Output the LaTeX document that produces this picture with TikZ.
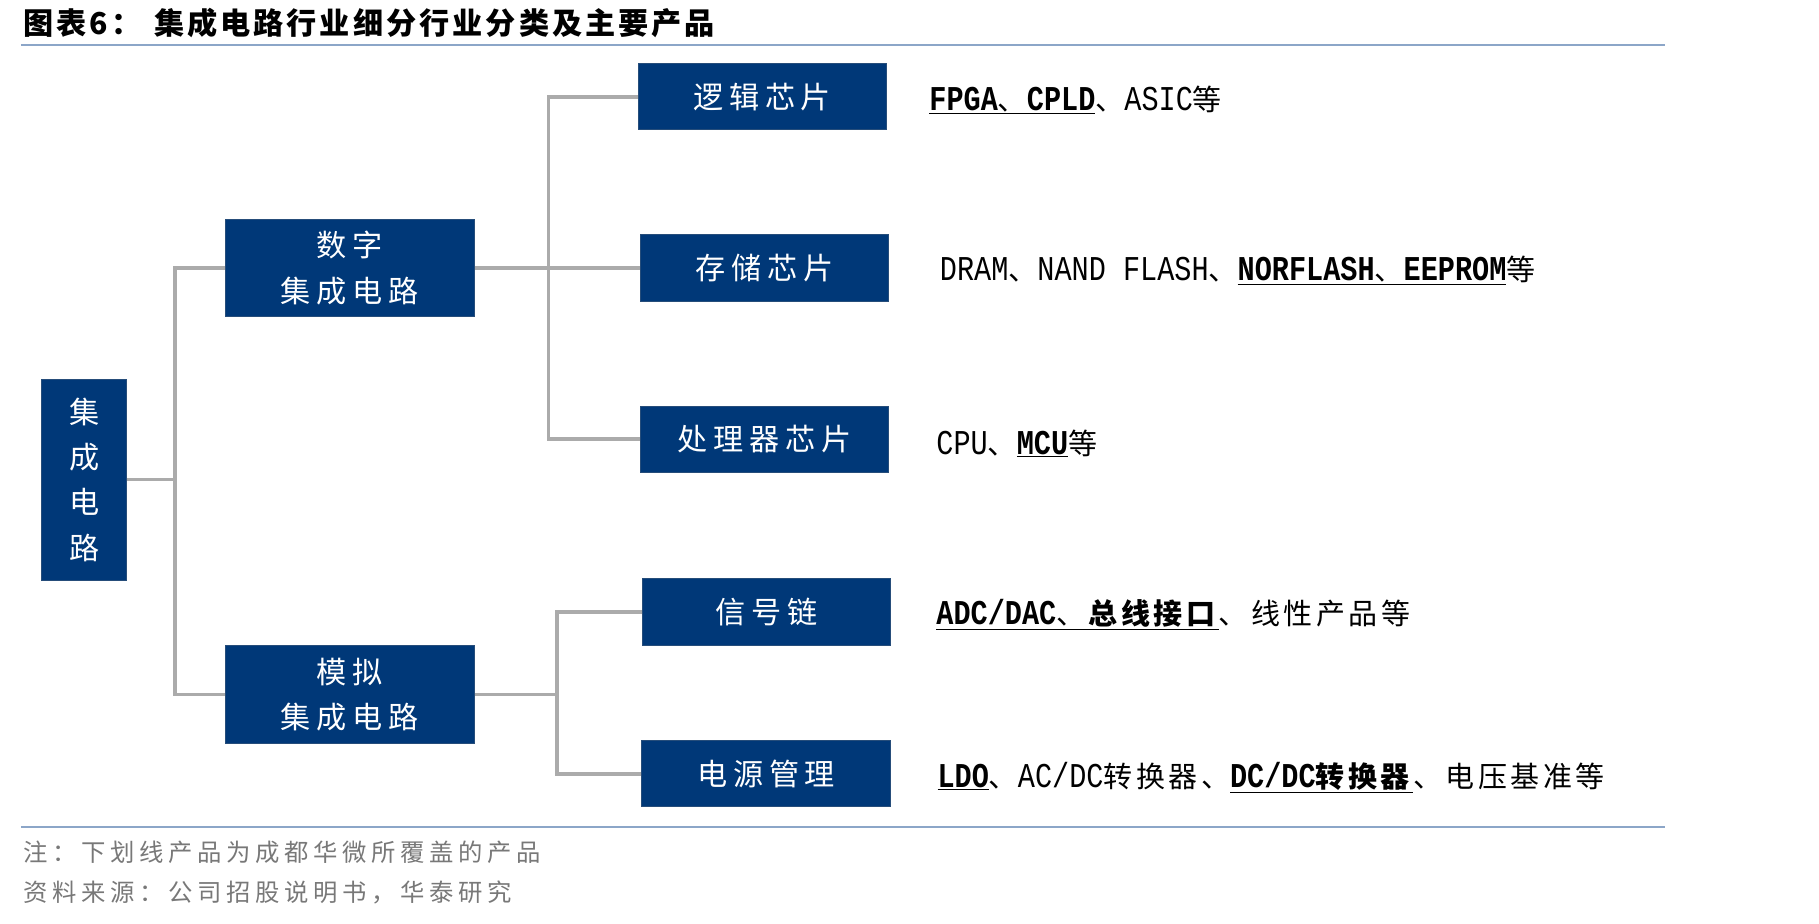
\documentclass[tikz,border=0pt]{standalone}
\usepackage{fontspec}
\setmainfont{Noto Sans CJK SC}
\newfontfamily\nar[FakeStretch=0.82]{Liberation Mono}
\newfontfamily\boxf[LetterSpace=19]{Noto Sans CJK SC}
\newfontfamily\prodf[LetterSpace=12]{Noto Sans CJK SC}
\newfontfamily\notef[LetterSpace=19]{Noto Sans CJK SC}
\newfontfamily\titlef[LetterSpace=10]{Noto Sans CJK SC}
\newcommand\La[1]{{\nar\fontsize{30}{30}\selectfont #1}}
\newcommand\Lb[1]{{\nar\bfseries\fontsize{30}{30}\selectfont #1}}
\definecolor{navy}{RGB}{0,56,120}
\definecolor{conn}{RGB}{171,171,171}
\definecolor{rulec}{RGB}{140,166,200}
\definecolor{notegray}{RGB}{120,120,120}
\tikzset{
  box/.style={fill=navy, draw=navy!70!gray, line width=0.8pt, text=white,
    font=\boxf\fontsize{26}{39}\selectfont, align=center,
    minimum width=214pt, minimum height=57pt, inner sep=0pt},
  conn/.style={draw=conn, line width=3pt},
  prod/.style={anchor=west, inner sep=0pt, font=\prodf\fontsize{25}{30}\selectfont, text=black},
  note/.style={anchor=west, inner sep=0pt, font=\notef\fontsize{21}{26}\selectfont, text=notegray},
  rulel/.style={draw=rulec, line width=2pt}
}
\begin{document}
\begin{tikzpicture}[x=1pt,y=-1pt]
\useasboundingbox (0,0) rectangle (1568,796);
% title
\node[anchor=west, inner sep=0pt, font=\titlef\bfseries\fontsize{26}{30}\selectfont] (title) at (20,20) {图表6：\hspace{11pt}集成电路行业细分行业分类及主要产品};
\coordinate (r1a) at (18,39);
\coordinate (r1b) at (1435,39);
\draw[rulel] (r1a) -- (r1b);
\coordinate (r2a) at (18,713);
\coordinate (r2b) at (1435,713);
\draw[rulel] (r2a) -- (r2b);
% boxes
\node[box, minimum width=73pt, minimum height=173pt] (root) at (72.5,413.5) {集\\成\\电\\路};
\node[box, minimum width=215pt, minimum height=84pt] (dig) at (301.5,231) {数字\\集成电路};
\node[box, minimum width=215pt, minimum height=84pt] (ana) at (301.5,598.5) {模拟\\集成电路};
\node[box] (logic) at (657,83.5) {逻辑芯片};
\node[box] (mem) at (659,231) {存储芯片};
\node[box] (proc) at (659,378.5) {处理器芯片};
\node[box] (sig) at (661,527.5) {信号链};
\node[box, minimum width=215pt] (pwr) at (660.5,667) {电源管理};
% connectors
\coordinate (j1) at (151,413.5);
\coordinate (j2) at (473,231);
\coordinate (j3) at (480,598.5);
\draw[conn] (root.east) -- (j1);
\draw[conn] (dig.west) -- (dig.west -| j1) -- (ana.west -| j1) -- (ana.west);
\draw[conn] (dig.east) -- (mem.west);
\draw[conn] (logic.west) -- (logic.west -| j2) -- (proc.west -| j2) -- (proc.west);
\draw[conn] (ana.east) -- (j3);
\draw[conn] (sig.west) -- (sig.west -| j3) -- (pwr.west -| j3) -- (pwr.west);
% products
\node[prod] (t1) at (801,86) {\underline{\Lb{FPGA}、\Lb{CPLD}}、\La{ASIC}等};
\node[prod] (t2) at (810,233) {\La{DRAM}、\La{NAND FLASH}、\underline{\Lb{NORFLASH}、\Lb{EEPROM}}等};
\node[prod] (t3) at (807,382) {\La{CPU}、\underline{\Lb{MCU}}等};
\node[prod] (t4) at (807,530) {\underline{\Lb{ADC/DAC}、\textbf{总线接口}}、线性产品等};
\node[prod] (t5) at (808,670) {\underline{\Lb{LDO}}、\La{AC/DC}转换器、\underline{\Lb{DC/DC}\textbf{转换器}}、电压基准等};
% notes
\node[note] (n1) at (20,735) {注：下划线产品为成都华微所覆盖的产品};
\node[note] (n2) at (20,769) {资料来源：公司招股说明书，华泰研究};
\end{tikzpicture}
\end{document}
